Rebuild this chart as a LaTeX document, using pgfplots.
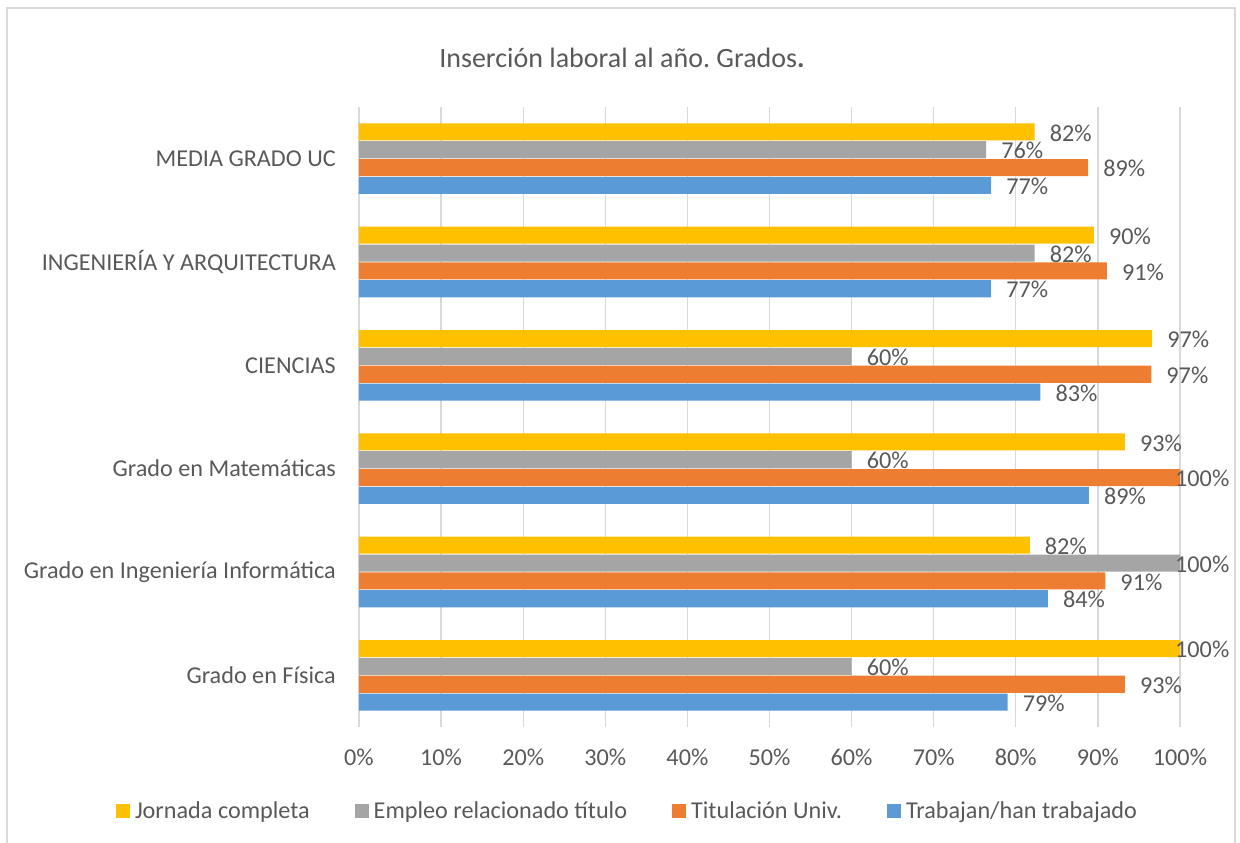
\documentclass[border=0pt]{standalone}
\usepackage{pgfplots}
\pgfplotsset{compat=1.18}
\usepackage{fontspec}
\setmainfont{Carlito}
\frenchspacing
\definecolor{cyel}{HTML}{FFC000}
\definecolor{cgray}{HTML}{A5A5A5}
\definecolor{corange}{HTML}{ED7D31}
\definecolor{cblue}{HTML}{5B9BD5}
\definecolor{ctext}{HTML}{595959}
\definecolor{cgrid}{HTML}{D9D9D9}
\begin{document}
\begin{tikzpicture}[x=1pt,y=1pt]
\useasboundingbox (0,0) rectangle (1240,843);
\draw[cgrid, line width=1.5pt] (7,-5) -- (7,835) -- (1235,835) -- (1235,-5);
\node[text=ctext, font=\fontsize{28}{32}\selectfont] at (622,785) {Inserción laboral al año.\ Grados\textbf{.}};
\begin{axis}[
  at={(359pt,116pt)}, anchor=south west,
  scale only axis, width=821pt, height=620pt,
  xbar=0.8pt, bar width=0.165,
  xmin=0, xmax=100, ymin=-0.5, ymax=5.5,
  xtick={0,10,...,100},
  xticklabel={\pgfmathprintnumber{\tick}\%},
  ytick={0,...,5},
  yticklabels={Grado en Física, Grado en Ingeniería Informática, Grado en Matemáticas, CIENCIAS, INGENIERÍA Y ARQUITECTURA, MEDIA GRADO UC},
  axis line style={draw=none},
  major tick length=0pt,
  xmajorgrids, grid style={cgrid, line width=1.3pt},
  tick label style={text=ctext, font=\fontsize{24.2}{28}\selectfont},
  xticklabel style={anchor=base, yshift=-39pt},
  yticklabel style={anchor=east, inner sep=0pt, xshift=-23pt},
  /pgf/number format/assume math mode=true,
  clip=false,
  point meta=x,
  visualization depends on={x \as \rawx},
  nodes near coords={\pgfmathprintnumber[fixed,precision=0]{\pgfplotspointmeta}\%},
  nodes near coords align={horizontal},
  every node near coord/.append style={text=ctext, font=\fontsize{24.2}{28}\selectfont, anchor=west, inner sep=0pt, yshift=-1pt, xshift={(\rawx>99.5) ? -5 : 15}},
  reverse legend,
  legend columns=4,
  legend cell align=left,
  legend style={at={(0.327,-0.135)}, anchor=center, draw=none, fill=none,
    font=\fontsize{24.2}{28}\selectfont, text=ctext,
    nodes={inner sep=2pt},
    /tikz/every even column/.append style={column sep=43pt}},
  legend image code/.code={\fill[#1] (0pt,-7pt) rectangle (14pt,7pt); \path (17pt,0pt);},
]
\addplot[fill=cblue, draw=none] coordinates {(79,0) (83.9,1) (88.9,2) (83,3) (77,4) (77,5)};
\addlegendentry{Trabajan/han trabajado}
\addplot[fill=corange, draw=none] coordinates {(93.3,0) (90.9,1) (100,2) (96.5,3) (91.1,4) (88.8,5)};
\addlegendentry{Titulación Univ.}
\addplot[fill=cgray, draw=none] coordinates {(60,0) (100,1) (60,2) (60,3) (82.3,4) (76.4,5)};
\addlegendentry{Empleo relacionado título}
\addplot[fill=cyel, draw=none] coordinates {(100,0) (81.7,1) (93.3,2) (96.6,3) (89.5,4) (82.3,5)};
\addlegendentry{Jornada completa}
\end{axis}
\end{tikzpicture}
\end{document}
